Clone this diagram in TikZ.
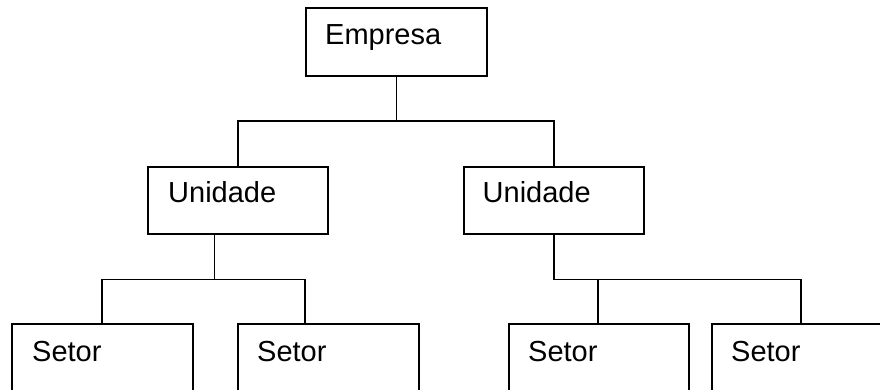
\documentclass[tikz,border=0pt]{standalone}
\usepackage{fontspec}
\setmainfont{Liberation Sans}
\begin{document}
\begin{tikzpicture}[x=1pt,y=-1pt,
  box/.style={draw,line width=1.6pt,inner sep=0,anchor=north west,minimum height=68pt},
  lbl/.style={anchor=base west,inner sep=0,font=\fontsize{29}{34}\selectfont},
  wire/.style={line width=1.6pt}]
\useasboundingbox (0,0) rectangle (880,390);
\clip (0,0) rectangle (880,390);
% boxes
\node[box,minimum width=181pt] (E) at (305,7) {};
\node[box,minimum width=180pt,minimum height=67pt] (UL) at (147,166) {};
\node[box,minimum width=180pt,minimum height=67pt] (UR) at (463,166) {};
\node[box,minimum width=181pt] (S1) at (11,323) {};
\node[box,minimum width=181pt] (S2) at (237,323) {};
\node[box,minimum width=180pt] (S3) at (508,323) {};
\node[box,minimum width=180pt] (S4) at (711,323) {};
% labels
\node[lbl] (tE) at ([shift={(20,38)}]E.north west) {Empresa};
\node[lbl] (tUL) at ([shift={(21,37)}]UL.north west) {Unidade};
\node[lbl] (tUR) at ([shift={(19.5,37)}]UR.north west) {Unidade};
\node[lbl] (tS1) at ([shift={(21,38)}]S1.north west) {Setor};
\node[lbl] (tS2) at ([shift={(20,38)}]S2.north west) {Setor};
\node[lbl] (tS3) at ([shift={(20,38)}]S3.north west) {Setor};
\node[lbl] (tS4) at ([shift={(20,38)}]S4.north west) {Setor};
% attach points
\coordinate (ULd) at ([xshift=67.3pt]UL.south west);
\coordinate (S1u) at ([xshift=90.7pt]S1.north west);
\coordinate (S2u) at ([xshift=68pt]S2.north west);
\coordinate (S3u) at ([xshift=90pt]S3.north west);
\coordinate (S4u) at ([xshift=90pt]S4.north west);
% connectors
\draw[wire] (E.south) -- ++(0,44.5) coordinate (jE) -| (UL.north);
\draw[wire] (jE) -| (UR.north);
\draw[wire] (ULd) -- ++(0,45) coordinate (jL) -| (S1u);
\draw[wire] (jL) -| (S2u);
\draw[wire] (UR.south) -- ++(0,45) coordinate (jR) -| (S4u);
\draw[wire] (jR -| S3u) -- (S3u);
\end{tikzpicture}
\end{document}
